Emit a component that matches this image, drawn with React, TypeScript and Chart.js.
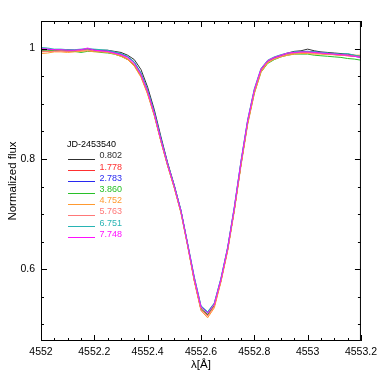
import { useEffect, useRef } from "react";
import { Chart, registerables } from "chart.js";

Chart.register(...registerables);

const wavelength = [
  4552.0, 4552.025, 4552.05, 4552.075, 4552.1, 4552.125, 4552.15, 4552.175, 4552.2, 4552.225,
  4552.25, 4552.275, 4552.3, 4552.325, 4552.35, 4552.375, 4552.4, 4552.425, 4552.45, 4552.475,
  4552.5, 4552.525, 4552.55, 4552.575, 4552.6, 4552.625, 4552.65, 4552.675, 4552.7, 4552.725,
  4552.75, 4552.775, 4552.8, 4552.825, 4552.85, 4552.875, 4552.9, 4552.925, 4552.95, 4552.975,
  4553.0, 4553.025, 4553.05, 4553.075, 4553.1, 4553.125, 4553.15, 4553.175, 4553.2,
];

const flux0802 = [0.997,0.998,0.998,0.997,0.998,0.997,0.998,0.999,0.998,0.997,0.997,0.995,0.993,0.988,0.980,0.962,0.930,0.889,0.840,0.793,0.752,0.706,0.645,0.580,0.527,0.518,0.534,0.580,0.636,0.708,0.790,0.866,0.922,0.960,0.977,0.984,0.988,0.992,0.995,0.996,0.999,0.996,0.994,0.993,0.992,0.991,0.990,0.988,0.986];
const flux1778 = [0.995,0.995,0.996,0.996,0.995,0.996,0.997,0.998,0.996,0.995,0.994,0.991,0.987,0.981,0.970,0.950,0.919,0.880,0.832,0.788,0.748,0.703,0.643,0.580,0.528,0.516,0.533,0.579,0.635,0.708,0.790,0.866,0.922,0.961,0.976,0.983,0.987,0.990,0.992,0.993,0.993,0.992,0.991,0.990,0.989,0.988,0.987,0.986,0.985];
const flux2783 = [0.999,0.999,0.998,0.998,0.997,0.997,0.998,0.999,0.997,0.996,0.995,0.993,0.990,0.985,0.975,0.955,0.924,0.884,0.836,0.791,0.751,0.706,0.646,0.585,0.533,0.522,0.538,0.583,0.639,0.712,0.795,0.869,0.925,0.962,0.977,0.983,0.987,0.991,0.993,0.994,0.995,0.994,0.993,0.991,0.990,0.989,0.988,0.986,0.984];
const flux3860 = [0.995,0.996,0.997,0.997,0.996,0.995,0.993,0.995,0.995,0.993,0.992,0.990,0.986,0.980,0.969,0.950,0.919,0.879,0.832,0.788,0.748,0.703,0.644,0.581,0.529,0.518,0.535,0.580,0.636,0.708,0.790,0.864,0.919,0.957,0.973,0.980,0.985,0.988,0.990,0.990,0.990,0.988,0.987,0.986,0.985,0.984,0.982,0.981,0.979];
const flux4752 = [0.991,0.992,0.994,0.994,0.993,0.994,0.995,0.996,0.994,0.994,0.993,0.990,0.986,0.980,0.968,0.948,0.917,0.878,0.831,0.787,0.747,0.702,0.642,0.578,0.525,0.512,0.530,0.577,0.633,0.705,0.787,0.862,0.918,0.957,0.974,0.981,0.985,0.988,0.990,0.991,0.991,0.990,0.990,0.989,0.989,0.988,0.988,0.988,0.988];
const flux5763 = [0.994,0.995,0.995,0.996,0.995,0.996,0.997,0.998,0.996,0.995,0.994,0.991,0.988,0.982,0.971,0.951,0.920,0.880,0.833,0.789,0.749,0.704,0.644,0.580,0.527,0.515,0.533,0.579,0.635,0.708,0.791,0.866,0.922,0.960,0.976,0.982,0.986,0.990,0.992,0.993,0.993,0.992,0.991,0.990,0.989,0.988,0.987,0.986,0.985];
const flux6751 = [1.002,1.001,0.999,0.999,0.998,0.998,0.999,1.000,0.999,0.998,0.997,0.994,0.991,0.986,0.976,0.956,0.925,0.885,0.837,0.792,0.752,0.707,0.647,0.586,0.534,0.523,0.539,0.584,0.640,0.713,0.796,0.871,0.927,0.964,0.979,0.985,0.989,0.992,0.994,0.995,0.995,0.994,0.993,0.992,0.991,0.990,0.991,0.988,0.986];
const flux7748 = [1.000,0.999,0.998,0.998,0.997,0.997,0.998,1.001,0.997,0.996,0.995,0.992,0.989,0.984,0.973,0.953,0.922,0.882,0.834,0.790,0.750,0.705,0.645,0.583,0.532,0.520,0.537,0.582,0.638,0.711,0.794,0.869,0.925,0.963,0.978,0.984,0.988,0.992,0.993,0.994,0.994,0.993,0.992,0.991,0.990,0.989,0.988,0.986,0.984];

const seriesLabels = ["0.802", "1.778", "2.783", "3.860", "4.752", "5.763", "6.751", "7.748"];
const seriesValues = [flux0802, flux1778, flux2783, flux3860, flux4752, flux5763, flux6751, flux7748];
const seriesColors = ["#303030", "#ff3030", "#2828f0", "#28c028", "#ff9a30", "#ff7878", "#28b4b4", "#ff10ff"];
const legendTitle = "JD-2453540";

const xTickValues = [4552, 4552.2, 4552.4, 4552.6, 4552.8, 4553, 4553.2];
const xTickLabels = ["4552", "4552.2", "4552.4", "4552.6", "4552.8", "4553", "4553.2"];
const yTickValues = [0.6, 0.8, 1];
const yTickLabels = ["0.6", "0.8", "1"];

const FONT = '"Liberation Sans", Arial, Helvetica, sans-serif';

const framePlugin = {
  id: "frameTicks",
  afterDraw(chart: any) {
    const { ctx, chartArea, scales } = chart;
    const { left, right, top, bottom } = chartArea;
    const x = scales.x;
    const y = scales.y;
    ctx.save();
    ctx.strokeStyle = "#000";
    ctx.lineWidth = 1;
    ctx.strokeRect(left + 0.5, top + 0.5, right - left - 1, bottom - top - 1);
    ctx.beginPath();
    for (let i = 0; i <= 24; i++) {
      const v = 4552 + i * 0.05;
      const px = Math.round(x.getPixelForValue(v)) + 0.5;
      const len = i % 4 === 0 ? 6 : 3;
      ctx.moveTo(px, bottom);
      ctx.lineTo(px, bottom - len);
      ctx.moveTo(px, top);
      ctx.lineTo(px, top + len);
    }
    for (let i = 10; i <= 21; i++) {
      const v = i * 0.05;
      const py = Math.round(y.getPixelForValue(v)) + 0.5;
      const len = i % 4 === 0 ? 6 : 3;
      ctx.moveTo(left, py);
      ctx.lineTo(left + len, py);
      ctx.moveTo(right, py);
      ctx.lineTo(right - len, py);
    }
    ctx.stroke();
    ctx.restore();
  },
};

const legendPlugin = {
  id: "jdLegend",
  afterDatasetsDraw(chart: any) {
    const { ctx, chartArea } = chart;
    const x0 = chartArea.left + 27;
    const x1 = chartArea.left + 54;
    const xr = chartArea.left + 81;
    const yTitle = chartArea.top + 124;
    ctx.save();
    ctx.font = `9px ${FONT}`;
    ctx.textBaseline = "middle";
    ctx.fillStyle = "#000";
    ctx.textAlign = "left";
    ctx.fillText(legendTitle, x0 - 1, yTitle);
    chart.data.datasets.forEach((ds: any, i: number) => {
      const yy = yTitle + 10.9 + i * 11.2;
      ctx.strokeStyle = ds.borderColor;
      ctx.lineWidth = 1;
      ctx.beginPath();
      ctx.moveTo(x0, Math.round(yy + 3) + 0.5);
      ctx.lineTo(x1, Math.round(yy + 3) + 0.5);
      ctx.stroke();
      ctx.fillStyle = ds.borderColor;
      ctx.textAlign = "right";
      ctx.fillText(ds.label, xr, yy);
    });
    ctx.restore();
  },
};

export default function App() {
  const canvasRef = useRef<HTMLCanvasElement | null>(null);

  useEffect(() => {
    document.body.style.margin = "0";
    const canvas = canvasRef.current;
    if (!canvas) return;
    Chart.defaults.color = "#000";
    const chart = new Chart(canvas, {
      type: "line",
      data: {
        datasets: seriesValues.map((vals, i) => ({
          label: seriesLabels[i],
          data: vals.map((v, j) => ({ x: wavelength[j], y: v })),
          borderColor: seriesColors[i],
          backgroundColor: seriesColors[i],
          borderWidth: 1,
          pointRadius: 0,
          tension: 0,
          fill: false,
          order: seriesValues.length - 1 - i,
        })),
      },
      options: {
        responsive: false,
        animation: false,
        layout: { padding: { left: 0, right: 21, top: 21, bottom: 0 } },
        plugins: {
          legend: { display: false },
          tooltip: { enabled: false },
        },
        scales: {
          x: {
            type: "linear",
            min: 4552,
            max: 4553.2,
            grid: { display: false, drawTicks: false },
            border: { display: false },
            afterBuildTicks: (axis: any) => {
              axis.ticks = xTickValues.map((v) => ({ value: v }));
            },
            afterFit: (axis: any) => {
              axis.height = 41;
            },
            ticks: {
              autoSkip: false,
              maxRotation: 0,
              padding: 5,
              font: { family: FONT, size: 10.5 },
              color: "#000",
              callback: (value: any) => {
                const k = xTickValues.findIndex((t) => Math.abs(t - Number(value)) < 1e-6);
                return k >= 0 ? xTickLabels[k] : "";
              },
            },
            title: {
              display: true,
              text: "λ[Å]",
              font: { family: FONT, size: 11.5 },
              color: "#000",
              padding: { top: 0, bottom: 10 },
            },
          },
          y: {
            type: "linear",
            min: 0.47,
            max: 1.05,
            grid: { display: false, drawTicks: false },
            border: { display: false },
            afterBuildTicks: (axis: any) => {
              axis.ticks = yTickValues.map((v) => ({ value: v }));
            },
            afterFit: (axis: any) => {
              axis.width = 41;
            },
            ticks: {
              autoSkip: false,
              padding: 6,
              font: { family: FONT, size: 10.5 },
              color: "#000",
              callback: (value: any) => {
                const k = yTickValues.findIndex((t) => Math.abs(t - Number(value)) < 1e-6);
                return k >= 0 ? yTickLabels[k] : "";
              },
            },
            title: {
              display: true,
              text: "Normalized flux",
              font: { family: FONT, size: 11.5 },
              color: "#000",
              padding: { top: 6, bottom: 0 },
            },
          },
        },
      },
      plugins: [framePlugin, legendPlugin],
    });
    return () => chart.destroy();
  }, []);

  return (
    <div style={{ width: 382, height: 382 }}>
      <canvas ref={canvasRef} width={382} height={382} style={{ display: "block" }} />
    </div>
  );
}
